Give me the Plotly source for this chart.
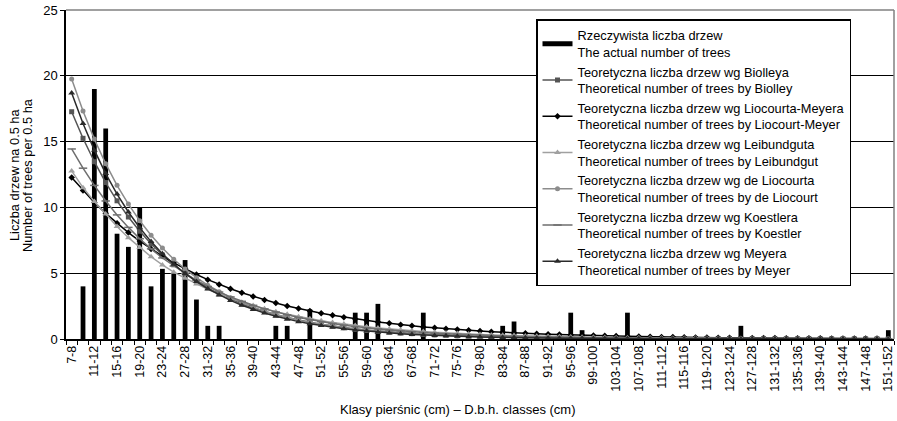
import plotly.graph_objects as go

categories = [f"{d}-{d+1}" for d in range(7, 152, 2)]
tick_labels = [c if i % 2 == 0 else "" for i, c in enumerate(categories)]

actual = [0, 4, 19, 16, 8, 7, 10, 4, 5.33, 5,
          6, 3, 1, 1, 0, 0, 0, 0, 1, 1,
          0, 2.25, 0, 0, 0, 2, 2, 2.67, 0, 0,
          0, 2, 0, 0, 0, 0, 0, 0, 1, 1.33,
          0, 0, 0, 0, 2, 0.67, 0, 0, 0, 2,
          0, 0, 0, 0, 0, 0, 0, 0, 0, 1,
          0, 0, 0, 0, 0, 0, 0, 0, 0, 0,
          0, 0, 0.67]

biolley = [17.27, 15.25, 13.47, 11.89, 10.50, 9.27, 8.19, 7.23, 6.38, 5.64,
           4.98, 4.40, 3.88, 3.43, 3.03, 2.67, 2.36, 2.08, 1.84, 1.63,
           1.44, 1.27, 1.12, 0.99, 0.87, 0.77, 0.68, 0.60, 0.53, 0.47,
           0.41, 0.36, 0.32, 0.28, 0.25, 0.22, 0.20, 0.17, 0.15, 0.14,
           0.12, 0.11, 0.09, 0.08, 0.07, 0.07, 0.06, 0.05, 0.05, 0.04,
           0.04, 0.03, 0.03, 0.03, 0.02, 0.02, 0.02, 0.02, 0.01, 0.01,
           0.01, 0.01, 0.01, 0.01, 0.01, 0.01, 0.01, 0.01, 0.01, 0.01,
           0.01, 0.01, 0.01]

liocourt_meyer = [12.27, 11.29, 10.38, 9.55, 8.79, 8.09, 7.44, 6.84, 6.30, 5.79,
                  5.33, 4.90, 4.51, 4.15, 3.82, 3.51, 3.23, 2.97, 2.73, 2.51,
                  2.31, 2.13, 1.96, 1.80, 1.66, 1.52, 1.40, 1.29, 1.19, 1.09,
                  1.00, 0.92, 0.85, 0.78, 0.72, 0.66, 0.61, 0.56, 0.51, 0.47,
                  0.43, 0.40, 0.37, 0.34, 0.31, 0.29, 0.26, 0.24, 0.22, 0.21,
                  0.19, 0.17, 0.16, 0.15, 0.14, 0.12, 0.11, 0.10, 0.10, 0.09,
                  0.08, 0.07, 0.07, 0.06, 0.06, 0.05, 0.05, 0.04, 0.04, 0.04,
                  0.03, 0.03, 0.03]

leibundgut = [12.77, 11.50, 10.45, 9.50, 8.55, 7.70, 6.95, 6.25, 5.63, 5.08,
              4.62, 4.18, 3.78, 3.42, 3.10, 2.80, 2.54, 2.30, 2.08, 1.88,
              1.70, 1.54, 1.39, 1.26, 1.14, 1.03, 0.93, 0.84, 0.76, 0.69,
              0.63, 0.57, 0.51, 0.46, 0.42, 0.38, 0.34, 0.31, 0.28, 0.26,
              0.23, 0.21, 0.19, 0.17, 0.16, 0.14, 0.13, 0.12, 0.10, 0.09,
              0.09, 0.08, 0.07, 0.06, 0.06, 0.05, 0.05, 0.04, 0.04, 0.04,
              0.03, 0.03, 0.03, 0.02, 0.02, 0.02, 0.02, 0.02, 0.01, 0.01,
              0.01, 0.01, 0.01]

de_liocourt = [19.75, 17.32, 15.19, 13.32, 11.68, 10.25, 8.99, 7.88, 6.91, 6.06,
               5.32, 4.66, 4.09, 3.59, 3.14, 2.76, 2.42, 2.12, 1.86, 1.63,
               1.43, 1.25, 1.10, 0.97, 0.85, 0.74, 0.65, 0.57, 0.50, 0.44,
               0.39, 0.34, 0.30, 0.26, 0.23, 0.20, 0.17, 0.15, 0.13, 0.12,
               0.10, 0.09, 0.08, 0.07, 0.06, 0.05, 0.05, 0.04, 0.04, 0.03,
               0.03, 0.02, 0.02, 0.02, 0.02, 0.01, 0.01, 0.01, 0.01, 0.01,
               0.01, 0.01, 0.01, 0.01, 0.01, 0.00, 0.00, 0.00, 0.00, 0.00,
               0.00, 0.00, 0.00]

koestler = [14.44, 12.98, 11.67, 10.49, 9.43, 8.48, 7.62, 6.85, 6.16, 5.54,
            4.98, 4.46, 3.99, 3.57, 3.20, 2.86, 2.56, 2.29, 2.05, 1.84,
            1.64, 1.47, 1.32, 1.18, 1.05, 0.94, 0.84, 0.76, 0.68, 0.61,
            0.54, 0.49, 0.44, 0.39, 0.35, 0.31, 0.28, 0.25, 0.22, 0.20,
            0.18, 0.16, 0.14, 0.13, 0.11, 0.10, 0.09, 0.08, 0.07, 0.07,
            0.06, 0.05, 0.05, 0.04, 0.04, 0.03, 0.03, 0.03, 0.02, 0.02,
            0.02, 0.02, 0.02, 0.01, 0.01, 0.01, 0.01, 0.01, 0.01, 0.01,
            0.01, 0.01, 0.01]

meyer = [18.70, 16.38, 14.35, 12.57, 11.01, 9.65, 8.45, 7.40, 6.48, 5.68,
         4.98, 4.36, 3.82, 3.35, 2.93, 2.57, 2.25, 1.97, 1.73, 1.51,
         1.32, 1.16, 1.02, 0.89, 0.78, 0.68, 0.60, 0.52, 0.46, 0.40,
         0.35, 0.31, 0.27, 0.24, 0.21, 0.18, 0.16, 0.14, 0.12, 0.11,
         0.09, 0.08, 0.07, 0.06, 0.06, 0.05, 0.04, 0.04, 0.03, 0.03,
         0.03, 0.02, 0.02, 0.02, 0.02, 0.01, 0.01, 0.01, 0.01, 0.01,
         0.01, 0.01, 0.01, 0.01, 0.00, 0.00, 0.00, 0.00, 0.00, 0.00,
         0.00, 0.00, 0.00]

FONT = "Arial, Liberation Sans, sans-serif"

W, H = 897, 421
ML, MR, MT, MB = 66, 3, 10, 82
PW, PH = W - ML - MR, H - MT - MB


def px(ax):
    return (ax - ML) / PW


def py(ay):
    return (MT + PH - ay) / PH


fig = go.Figure()
fig.add_trace(go.Bar(x=categories, y=actual, width=0.42, marker=dict(color="black", line=dict(width=0)),
                     showlegend=False, name="Rzeczywista liczba drzew"))
fig.add_trace(go.Scatter(x=[None], y=[None], mode="lines", line=dict(color="black", width=5),
                         name="Rzeczywista liczba drzew<br>The actual number of trees"))

series = [
    (biolley, "Teoretyczna liczba drzew wg Biolleya<br>Theoretical number of trees by Biolley", "#555555", "square", 5),
    (liocourt_meyer, "Teoretyczna liczba drzew wg Liocourta-Meyera<br>Theoretical number of trees by Liocourt-Meyer", "#000000", "diamond", 5),
    (leibundgut, "Teoretyczna liczba drzew wg Leibundguta<br>Theoretical number of trees by Leibundgut", "#a0a0a0", "triangle-up", 6),
    (de_liocourt, "Teoretyczna liczba drzew wg de Liocourta<br>Theoretical number of trees by de Liocourt", "#8c8c8c", "circle", 5),
    (koestler, "Teoretyczna liczba drzew wg Koestlera<br>Theoretical number of trees by Koestler", "#6e6e6e", "line-ew", 6),
    (meyer, "Teoretyczna liczba drzew wg Meyera<br>Theoretical number of trees by Meyer", "#2a2a2a", "triangle-up", 6),
]
for vals, name, col, sym, sz in series:
    fig.add_trace(go.Scatter(x=categories, y=vals, mode="lines+markers", name=name,
                             line=dict(color=col, width=1.5),
                             marker=dict(symbol=sym, size=sz, color=col,
                                         line=dict(color=col, width=1.5 if sym == "line-ew" else 0))))

fig.update_layout(
    width=W, height=H,
    margin=dict(l=ML, r=MR, t=MT, b=MB, autoexpand=False),
    paper_bgcolor="white", plot_bgcolor="white",
    font=dict(family=FONT, size=12, color="black"),
    showlegend=True,
    legend=dict(x=px(536), y=py(19), xanchor="left", yanchor="top",
                bgcolor="white", bordercolor="black", borderwidth=1.5,
                font=dict(family=FONT, size=12.8, color="black"),
                itemwidth=30, tracegroupgap=0),
    xaxis=dict(type="category", tickmode="array", tickvals=categories, ticktext=tick_labels,
               tickangle=-90, tickfont=dict(size=12.5), ticks="outside", ticklen=4, tickcolor="black",
               tickson="boundaries", automargin=False, ticklabeloverflow="allow",
               showline=True, linecolor="black", linewidth=1.5, showgrid=False,
               range=[-0.5, len(categories) - 0.5]),
    yaxis=dict(range=[0, 25], dtick=5, showgrid=True, gridcolor="black", gridwidth=1,
               tickfont=dict(size=13), ticks="outside", ticklen=4, tickcolor="black", automargin=False,
               ticklabeloverflow="allow",
               showline=True, linecolor="black", linewidth=1.5, zeroline=False),
    shapes=[
        dict(type="line", xref="paper", yref="paper", x0=0, x1=1, y0=1, y1=1, line=dict(color="#808080", width=1.5)),
        dict(type="line", xref="paper", yref="paper", x0=1, x1=1, y0=0, y1=1, line=dict(color="#808080", width=1.5)),
    ],
    annotations=[
        dict(text="Liczba drzew na 0.5 ha", xref="paper", yref="paper",
             x=px(14), y=py(175), xanchor="center", yanchor="middle", textangle=-90, showarrow=False,
             font=dict(family=FONT, size=12.8)),
        dict(text="Number of trees per 0.5 ha", xref="paper", yref="paper",
             x=px(27), y=py(175), xanchor="center", yanchor="middle", textangle=-90, showarrow=False,
             font=dict(family=FONT, size=12.8)),
        dict(text="Klasy pierśnic (cm) – D.b.h. classes (cm)", xref="paper", yref="paper",
             x=px(458), y=py(409), xanchor="center", yanchor="middle", showarrow=False,
             font=dict(family=FONT, size=13)),
    ],
)

fig.write_html("out.html", config={"displayModeBar": False},
               post_script="document.body.style.margin='0px';document.body.style.overflow='hidden';")
